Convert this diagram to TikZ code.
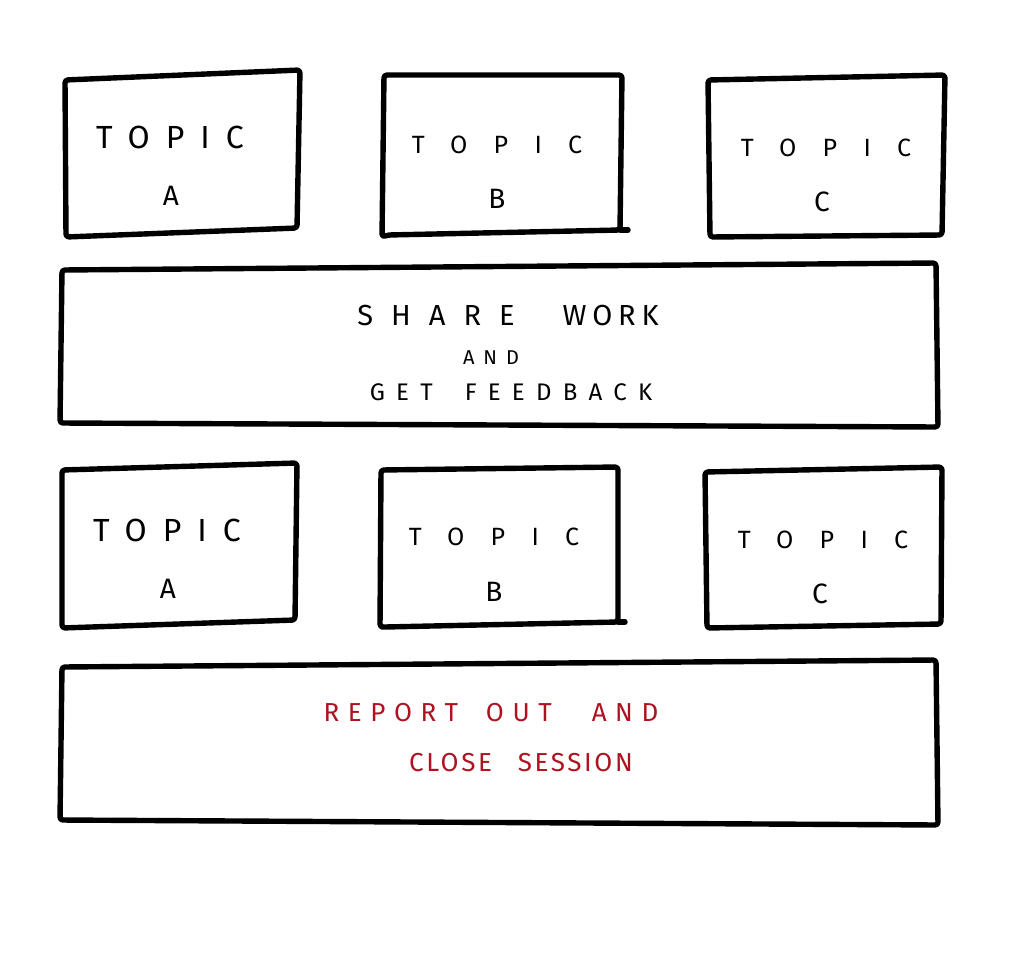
\documentclass[tikz,border=0pt]{standalone}
\usepackage{fontspec}
\setmainfont{Fira Sans}
\definecolor{reportred}{RGB}{172,18,32}
\newcommand\tracked[2]{{\addfontfeature{LetterSpace=#1}#2}}

\begin{document}
\begin{tikzpicture}
		[x=0.5pt,y=-0.5pt,
		 box/.style= {line width=2.7pt,line join=round,line cap=round,rounded corners=1.5pt},
		 topicbig/.style= {inner sep=0pt,font=\fontsize{16}{18}\selectfont},
		 topicsmall/.style= {inner sep=0pt,font=\fontsize{12.5}{15}\selectfont},
		 letter/.style= {inner sep=0pt,font=\fontsize{14}{16}\selectfont},
		 banner/.style= {inner sep=0pt,font=\fontsize{13}{15}\selectfont},
		 report/.style= {banner,text=reportred}]
		
		\useasboundingbox (0,0) rectangle (1023,959);
		
		% first row of topics
		\draw[box] (65,80) -- (300,70) -- (297,228) -- (66,237) -- cycle;
		\draw[box] (384,75) -- (622,75) -- (620,230) -- (388,235) -- (382,237) -- cycle;
		\draw[box] (620,230) -- (628,230);
		\draw[box] (708,80) -- (945,75) -- (942,235) -- (710,237) -- cycle;
		
		\node[topicbig] (topicA1) at (170,137) {\tracked{50}{TOPIC}};
		\node[letter] (nameA1) at (171,196) {A};
		\node[topicsmall] (topicB1) at (497,145) {\tracked{105}{TOPIC}};
		\node[letter] (nameB1) at (497,199) {B};
		\node[topicsmall] (topicC1) at (826,148) {\tracked{105}{TOPIC}};
		\node[letter] (nameC1) at (822,202) {C};
		
		% share work
		\draw[box] (62,270) -- (936,263) -- (938,427) -- (60,423) -- cycle;
		
		\node[banner,font=\fontsize{14.5}{16}\selectfont] (share) at (508,316)
			{\tracked{62}{SHARE}\hspace{24pt}\tracked{20}{WORK}};
		\node[banner,font=\fontsize{10}{12}\selectfont] (and) at (491,358) {\tracked{45}{AND}};
		\node[banner,font=\fontsize{12}{14}\selectfont] (feedback) at (511,392)
			{\tracked{47}{GET}\hspace{16pt}\tracked{47}{FEEDBACK}};
		
		% second row of topics
		\draw[box] (62,470) -- (297,463) -- (295,620) -- (62,628) -- cycle;
		\draw[box] (381,470) -- (618,467) -- (618,622) -- (385,627) -- (380,627) -- cycle;
		\draw[box] (618,622) -- (625,622);
		\draw[box] (705,472) -- (942,467) -- (941,624) -- (707,628) -- cycle;
		
		\node[topicbig] (topicA2) at (167,530) {\tracked{50}{TOPIC}};
		\node[letter] (nameA2) at (168,589) {A};
		\node[topicsmall] (topicB2) at (494,537) {\tracked{105}{TOPIC}};
		\node[letter] (nameB2) at (494,592) {B};
		\node[topicsmall] (topicC2) at (823,540) {\tracked{105}{TOPIC}};
		\node[letter] (nameC2) at (820,594) {C};
		
		% report out
		\draw[box] (62,667) -- (936,660) -- (938,825) -- (60,820) -- cycle;
		
		\node[report] (reportout) at (491,713)
			{\tracked{33}{REPORT}\hspace{14pt}\tracked{33}{OUT}\hspace{20pt}\tracked{33}{AND}};
		\node[report] (closesession) at (521,763)
			{\tracked{10}{CLOSE}\hspace{13pt}\tracked{10}{SESSION}};
		
	\end{tikzpicture}
\end{document}
